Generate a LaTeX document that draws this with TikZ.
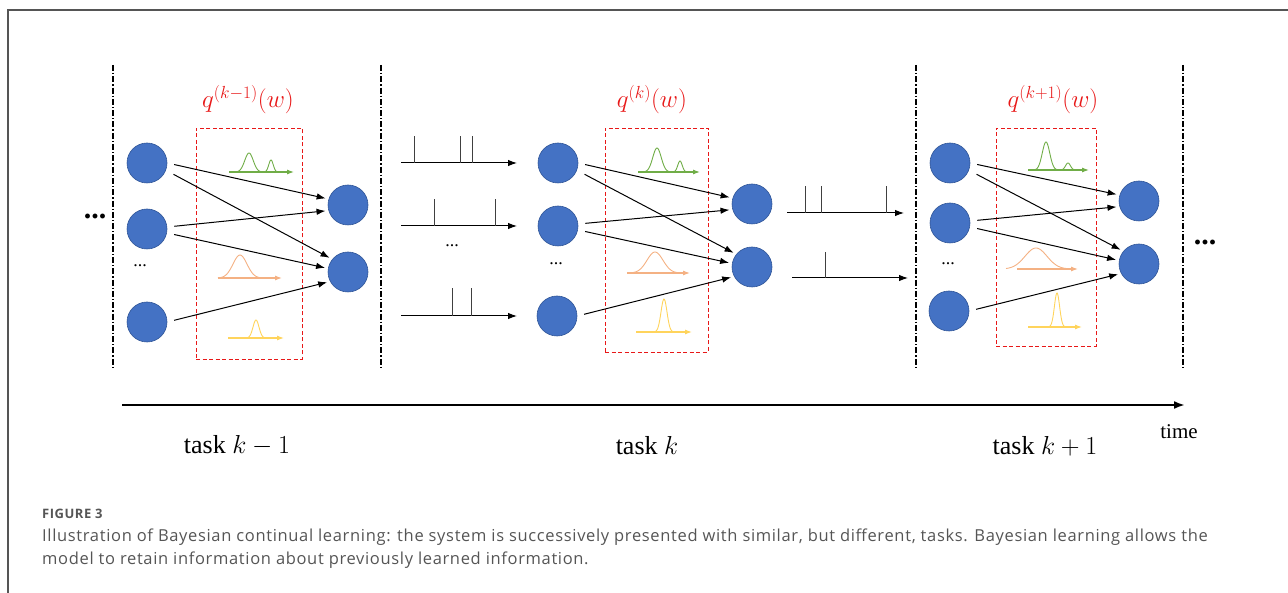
\RequirePackage{fix-cm}
\documentclass[tikz,border=0pt]{standalone}
\usepackage{fontspec}
\setmainfont{Liberation Serif}
\newfontfamily\capfont[LetterSpace=4]{Open Sans}
\usetikzlibrary{arrows.meta,positioning}

\definecolor{nodeblue}{RGB}{68,114,196}
\definecolor{nodeedge}{RGB}{47,85,151}
\definecolor{qred}{RGB}{232,24,24}
\definecolor{pgreen}{RGB}{112,173,71}
\definecolor{porange}{RGB}{244,177,131}
\definecolor{pyellow}{RGB}{255,212,92}
\definecolor{capgray}{RGB}{85,85,85}

% single gaussian bump: colour, baseline, from, to, mean, height, sigma
\newcommand{\bump}[7]{%
  \draw[#1, line width=0.9pt] plot[domain=#3:#4, samples=60, smooth]
    (\x, {#2 - #6*exp(-((\x-#5)^2)/(2*#7*#7))});}
% axis under a density: colour, baseline, from, to
\newcommand{\daxis}[4]{%
  \draw[#1, line width=1.1pt, -{Latex[length=7pt,width=5pt]}] (#3,#2) -- (#4,#2);}

\begin{document}
\begin{tikzpicture}[x=1pt, y=-1pt,
  neuron/.style={circle, fill=nodeblue, draw=nodeedge, line width=0.6pt,
                 minimum size=40pt, inner sep=0pt},
  link/.style={-{Latex[length=9pt,width=6.5pt]}, line width=1pt,
               shorten <=7pt, shorten >=3pt},
  sep/.style={line width=1.5pt, dash pattern=on 6pt off 2pt on 1.3pt off 2pt},
  qbox/.style={draw=qred, line width=0.9pt, dash pattern=on 4pt off 2.5pt},
  qlabel/.style={text=qred, font=\fontsize{25}{28}\selectfont},
  train/.style={-{Latex[length=9pt,width=6.5pt]}, line width=1pt},
  spike/.style={line width=1pt, draw=black!75},
  tasklabel/.style={font=\fontsize{26}{30}\selectfont},
  bigdots/.style={font=\fontsize{30}{30}\selectfont\bfseries},
  smalldots/.style={font=\fontsize{18}{18}\selectfont}
]
  \useasboundingbox (0,0) rectangle (1288,593);

  % outer frame
  \draw[capgray, line width=1.2pt] (8,593) -- (8,10) -- (1288,10);

  % task separators
  \foreach \sx in {113,381,916,1183}
    \draw[sep] (\sx,65) -- (\sx,370);
  \node[bigdots] (dl) at (95,216) {...};
  \node[bigdots] (dr) at (1205,242) {...};

  % --- task k-1 ---
  \node[qbox, minimum width=106pt, minimum height=231pt] (box1) at (249,243.5) {};
  \node[qlabel] (q1) at (248,100) {$q^{(k-1)}(w)$};
  \node[neuron] (i1a) at (147,163) {};
  \node[neuron] (i1b) at (147,229) {};
  \node[neuron] (i1c) at (147,322) {};
  \node[smalldots] (d1) at (140,266) {...};
  \node[neuron] (o1a) at (348,205) {};
  \node[neuron] (o1b) at (348,272) {};

  % --- task k ---
  \node[qbox, minimum width=103pt, minimum height=224pt] (box2) at (656.5,240) {};
  \node[qlabel] (q2) at (652,100) {$q^{(k)}(w)$};
  \node[neuron] (i2a) at (558,163) {};
  \node[neuron] (i2b) at (558,226) {};
  \node[neuron] (i2c) at (557,316) {};
  \node[smalldots] (d2) at (556,264) {...};
  \node[neuron] (o2a) at (752,204) {};
  \node[neuron] (o2b) at (752,267) {};

  % --- task k+1 ---
  \node[qbox, minimum width=100pt, minimum height=218pt] (box3) at (1046,237) {};
  \node[qlabel] (q3) at (1053,100) {$q^{(k+1)}(w)$};
  \node[neuron] (i3a) at (950,163) {};
  \node[neuron] (i3b) at (950,223) {};
  \node[neuron] (i3c) at (949,311) {};
  \node[smalldots] (d3) at (948,264) {...};
  \node[neuron] (o3a) at (1139,201) {};
  \node[neuron] (o3b) at (1139,264) {};

  % weights between layers
  \foreach \g in {1,2,3} {
    \draw[link] (i\g a.east) -- (o\g a.163);
    \draw[link] ([yshift=-8pt]i\g a.east) -- (o\g b.141);
    \draw[link] ([yshift=2pt]i\g b.east) -- (o\g a.196);
    \draw[link] ([yshift=-4pt]i\g b.east) -- (o\g b.170);
    \draw[link] (i\g c.east) -- (o\g b.208);
  }

  % weight posteriors (green: bimodal, orange: broad, yellow: narrow)
  \draw[pgreen, line width=0.9pt] plot[domain=234:282, samples=80, smooth]
    (\x, {172 - 19*exp(-((\x-249)^2)/36) - 12*exp(-((\x-271)^2)/10)});
  \daxis{pgreen}{172}{229}{294}
  \bump{porange}{278}{218}{268}{240}{23}{7}
  \daxis{porange}{278}{218}{282}
  \bump{pyellow}{338}{240}{276}{256}{18}{3}
  \daxis{pyellow}{338}{228}{284}

  \draw[pgreen, line width=0.9pt] plot[domain=642:690, samples=80, smooth]
    (\x, {172 - 24*exp(-((\x-657)^2)/36) - 11*exp(-((\x-680)^2)/10)});
  \daxis{pgreen}{172}{638}{700}
  \bump{porange}{273}{627}{684}{655}{21}{8}
  \daxis{porange}{273}{627}{690}
  \bump{pyellow}{332}{648}{684}{664}{33}{3}
  \daxis{pyellow}{332}{636}{692}

  \draw[pgreen, line width=0.9pt] plot[domain=1032:1078, samples=80, smooth]
    (\x, {170 - 28*exp(-((\x-1046)^2)/28) - 7*exp(-((\x-1068)^2)/12)});
  \daxis{pgreen}{170}{1028}{1089}
  \bump{porange}{269}{1006}{1072}{1036}{21}{11}
  \daxis{porange}{269}{1017}{1078}
  \bump{pyellow}{327}{1043}{1075}{1057}{34}{2.6}
  \daxis{pyellow}{327}{1028}{1082}

  % spike trains into task k
  \coordinate (s1) at (401,163);
  \coordinate (s2) at (401,226);
  \coordinate (s3) at (401,316);
  \draw[train] (s1) -- ++(116,0);
  \draw[train] (s2) -- ++(116,0);
  \draw[train] (s3) -- ++(116,0);
  \foreach \t in {414,460,472} \draw[spike] (\t,163) -- (\t,136);
  \foreach \t in {434,495} \draw[spike] (\t,226) -- (\t,199);
  \foreach \t in {452,471} \draw[spike] (\t,316) -- (\t,288);
  \node[smalldots] (d4) at (452,246) {...};

  % spike trains into task k+1
  \coordinate (s4) at (787,213);
  \coordinate (s5) at (792,278);
  \draw[train] (s4) -- ++(117,0);
  \draw[train] (s5) -- ++(116,0);
  \foreach \t in {805,821,886} \draw[spike] (\t,213) -- (\t,186);
  \draw[spike] (825,278) -- (825,252);

  % time axis
  \coordinate (t0) at (122,405);
  \coordinate (t1) at (1185,405);
  \draw[line width=2pt, -{Latex[length=11pt,width=8pt]}] (t0) -- (t1);
  \node[font=\fontsize{21}{24}\selectfont] (time) at (1179,432) {time};
  \node[tasklabel] (tk1) at (237,446) {task $k-1$};
  \node[tasklabel] (tk2) at (647,446) {task $k$};
  \node[tasklabel] (tk3) at (1045,446) {task $k+1$};

  % caption
  \node[anchor=base west, inner sep=0pt, text=capgray,
        font=\capfont\bfseries\fontsize{13}{15}\selectfont] (fig) at (42,518) {FIGURE 3};
  \node[anchor=base west, inner sep=0pt, text=capgray,
        font=\capfont\fontsize{16.5}{23}\selectfont] (cap1) at (42,541)
    {Illustration of Bayesian continual learning: the system is successively presented with similar, but different, tasks. Bayesian learning allows the};
  \node[anchor=base west, inner sep=0pt, text=capgray,
        font=\capfont\fontsize{16.5}{23}\selectfont] (cap2) at (42,564)
    {model to retain information about previously learned information.};
\end{tikzpicture}
\end{document}
